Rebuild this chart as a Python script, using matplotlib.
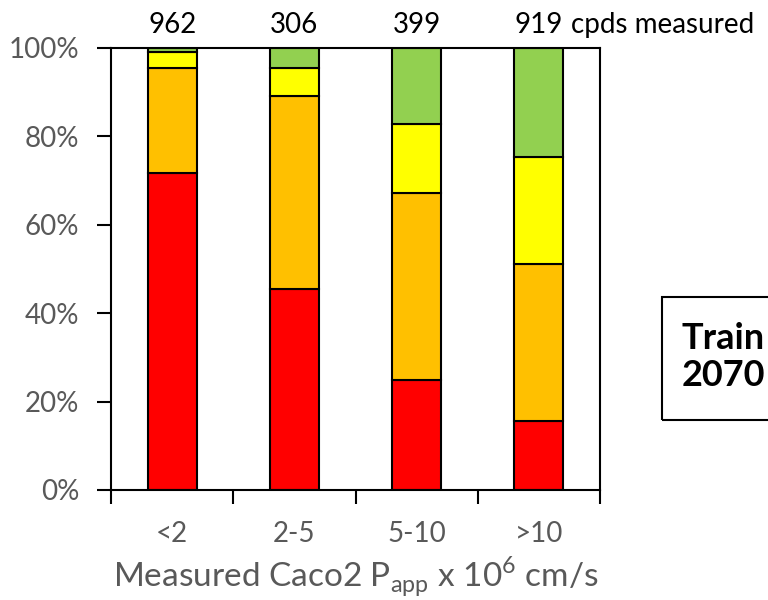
import matplotlib
matplotlib.use('Agg')
from matplotlib import pyplot as plt
from matplotlib.patches import Rectangle

plt.rcParams['font.family'] = ['Lato', 'DejaVu Sans']

categories = ['<2', '2-5', '5-10', '>10']
counts = [962, 306, 399, 919]
# stacked shares in %, bottom to top
red = [71.8, 45.5, 25.0, 15.7]
orange = [23.7, 43.6, 42.2, 35.5]
yellow = [3.6, 6.4, 15.6, 24.1]
green = [0.9, 4.5, 17.2, 24.7]

colors = ['#FF0000', '#FFC000', '#FFFF00', '#92D050']
grey = '#595959'

fig = plt.figure(figsize=(7.68, 6), dpi=100)
ax = fig.add_axes([111/768, 1-490/600, (600-111)/768, (490-48)/600])

x = list(range(len(categories)))
bottom = [0]*len(categories)
for vals, col in zip([red, orange, yellow, green], colors):
    ax.bar(x, vals, width=0.4, bottom=bottom, color=col, edgecolor='black', linewidth=1.5, zorder=2)
    bottom = [b+v for b, v in zip(bottom, vals)]

ax.set_xlim(-0.5, 3.5)
ax.set_ylim(0, 100)
ax.set_yticks(range(0, 101, 20))
ax.set_yticklabels([f'{v}%' for v in range(0, 101, 20)])
ax.set_xticks(x)
ax.set_xticklabels(categories)
ax.set_xticks([-0.5, 0.5, 1.5, 2.5, 3.5], minor=True)

ax.tick_params(axis='x', which='major', length=0, pad=22, labelsize=20, labelcolor=grey)
ax.tick_params(axis='x', which='minor', length=10, width=1.5, direction='out')
ax.tick_params(axis='y', length=10, width=1.5, pad=13, labelsize=20, labelcolor=grey)
for s in ax.spines.values():
    s.set_linewidth(1.5)

ax.set_xlabel('Measured Caco2 P$_{\\mathregular{app}}$ x 10$^{\\mathregular{6}}$ cm/s',
              fontsize=24, color=grey, labelpad=6)

for i, c in enumerate(counts):
    ax.annotate(str(c), xy=(i, 100), xytext=(0, 11), textcoords='offset points',
                ha='center', va='baseline', fontsize=20, annotation_clip=False)
ax.annotate('cpds measured', xy=(3, 100), xytext=(23, 11), textcoords='offset points',
            ha='left', va='baseline', fontsize=20, annotation_clip=False)

# box on the right, running off the figure edge
fig.add_artist(Rectangle((662/768, 1-420/600), 0.2, (420-297)/600, transform=fig.transFigure,
                         fill=False, edgecolor='black', linewidth=1.5))
fig.text(682/768, 1-357/600, 'Train\n2070', fontsize=26, fontweight='bold',
         va='center', ha='left', linespacing=1.15)

fig.savefig('out.png', dpi=100)
